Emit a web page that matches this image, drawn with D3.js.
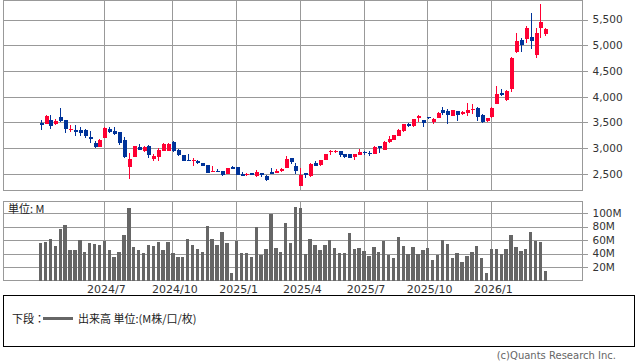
<!DOCTYPE html>
<html><head><meta charset="utf-8">
<script src="https://cdn.jsdelivr.net/npm/d3@7"></script>
<style>
html,body{margin:0;padding:0;background:#fff;}
svg{display:block;}
text{font-family:"DejaVu Sans",sans-serif;}
.jp{font-family:"Noto Sans CJK JP",sans-serif;}
</style></head>
<body>
<svg id="c" width="638" height="362"></svg>
<script>
// ---- data ----
const open  = [3494,3474,3545,3474,3597,3545,3358,3352,3345,3358,3223,3100,3029,3203,3377,3332,3313,3158,2625,2836,3025,2948,3040,2790,2820,2948,2935,3125,2972,2861,2766,2753,2747,2702,2665,2528,2560,2558,2500,2632,2636,2505,2475,2506,2450,2520,2462,2539,2520,2558,2603,2810,2655,2256,2510,2466,2710,2665,2763,2930,2936,2949,2891,2885,2827,2872,2923,2910,2878,3039,2955,3124,3156,3234,3331,3468,3429,3578,3539,3610,3500,3591,3740,3717,3627,3721,3656,3687,3753,3773,3647,3527,3613,3853,4067,3940,4153,4860,5107,5127,5167,4813,5327,5213];
const high  = [3545,3642,3642,3571,3777,3545,3448,3448,3410,3371,3332,3139,3177,3410,3410,3410,3313,3216,2905,3036,3075,3036,3055,2890,3005,3095,3100,3135,2975,2861,2880,2816,2759,2705,2665,2660,2595,2558,2620,2642,2636,2540,2520,2520,2578,2520,2474,2616,2597,2616,2855,2810,2705,2610,2510,2716,2750,2776,2891,2968,2968,2949,2891,2885,2878,2974,2942,2936,3045,3045,3137,3234,3260,3377,3461,3494,3565,3643,3539,3610,3578,3695,3790,3767,3747,3721,3721,3873,3860,3793,3660,3587,3807,4207,4147,4127,4767,5247,5147,5367,5627,5327,5807,5340];
const low   = [3358,3474,3377,3442,3513,3300,3319,3242,3242,3203,3107,3003,3029,3203,3300,3261,3068,2816,2395,2836,2966,2928,2810,2758,2758,2948,2935,2926,2850,2740,2740,2658,2690,2645,2513,2528,2528,2465,2500,2584,2468,2450,2455,2475,2436,2430,2352,2487,2507,2539,2603,2694,2494,2256,2425,2430,2642,2650,2763,2872,2897,2833,2814,2814,2763,2872,2872,2846,2878,2909,2955,3104,3150,3234,3318,3416,3409,3513,3416,3565,3474,3591,3645,3474,3627,3526,3636,3627,3660,3527,3493,3507,3593,3853,4013,3913,4093,4847,4873,5040,4927,4747,5140,5173];
const close = [3455,3623,3435,3526,3526,3377,3377,3319,3287,3242,3184,3029,3152,3390,3313,3281,3107,2836,2795,3036,2966,3025,2870,2850,2970,3078,3078,2945,2866,2740,2742,2766,2702,2645,2525,2560,2532,2485,2610,2600,2468,2452,2500,2488,2540,2468,2371,2487,2558,2597,2790,2732,2545,2485,2483,2698,2642,2770,2891,2942,2949,2872,2833,2814,2878,2929,2897,2885,3026,2994,3124,3182,3247,3351,3461,3435,3565,3617,3481,3578,3565,3675,3681,3640,3740,3636,3701,3747,3767,3607,3513,3587,3780,4060,4027,4113,4753,5087,5013,5327,5087,5247,5447,5307];
const volume = [56.2,57.2,61.7,51.2,76.6,82.6,45.3,45.3,59.7,42.3,55.7,54.2,52.7,58.7,45.3,34.8,42.3,67.7,108,49.8,45.3,40.8,52.7,51.2,57.2,45.3,57.2,40.8,34.8,34.8,61.7,52.7,46.8,42.3,81.1,61.7,52.7,72.1,55.7,10.9,58.7,40.8,40.8,34.8,79.6,37.8,46.8,99,48.3,42.3,85.6,55.7,109.5,108,39.3,61.7,52.7,45.3,52.7,60.2,48.3,40.8,40.8,70.6,46.8,48.3,43.8,36.3,49.8,42.3,58.7,37.8,33.3,64.7,51.2,39.3,49.8,39.3,45.3,48.3,30.3,37.8,60.2,54.2,33.3,40.8,27.4,36.3,42.3,51.2,33.3,10.9,46.8,46.8,39.3,46.8,67.7,49.8,43.8,46.8,72.1,58.7,57.2,13.9];
const fmt = d3.utcFormat("%Y-%m-%d");
const weeks = d3.utcMonday.range(new Date(Date.UTC(2024,3,1)), new Date(Date.UTC(2026,2,24))).map(fmt);
const xTickDates  = ["2024-07-01","2024-10-07","2025-01-06","2025-04-07","2025-07-07","2025-10-06","2026-01-05"];
const xTickLabels = ["2024/7","2024/10","2025/1","2025/4","2025/7","2025/10","2026/1"];
const priceTicks = [2500,3000,3500,4000,4500,5000,5500];
const volTicks = [20,40,60,80,100];

// ---- layout ----
const L = 3.5, R = 582.5;
const P = {top:0.5, bottom:190.5};
const V = {top:201, bottom:280.5};
const UP = "#ff0033", DOWN = "#003399", GRID = "#999999";

const svg = d3.select("#c");
const data = weeks.map((d,i)=>({d, o:open[i], h:high[i], l:low[i], c:close[i], v:volume[i]}));

const x = d3.scaleBand().domain(weeks).range([38.15, 38.15 + 4.9*weeks.length]);
const cx = d => x(d) + x.bandwidth()/2;
const y = d3.scaleLinear().domain([2175, 5870]).range([P.bottom, P.top]);
const yv = d3.scaleLinear().domain([0, 118]).range([V.bottom, V.top]);

function panel(top, bottom, yscale, ticks, fmtTick){
  const g = svg.append("g");
  // horizontal grid + right ticks
  g.append("g").attr("transform",`translate(${R},0)`)
    .call(d3.axisLeft(yscale).tickValues(ticks).tickSize(R-L).tickFormat(""))
    .call(a=>a.select(".domain").remove())
    .call(a=>a.selectAll("line").attr("stroke",GRID).attr("shape-rendering","crispEdges"));
  g.append("g").attr("transform",`translate(${R},0)`)
    .call(d3.axisRight(yscale).tickValues(ticks).tickSize(5).tickPadding(5).tickFormat(fmtTick))
    .call(a=>a.select(".domain").remove())
    .call(a=>a.selectAll("line").attr("stroke",GRID).attr("shape-rendering","crispEdges"))
    .call(a=>a.selectAll("text").attr("fill","#333").attr("font-size",10.5).attr("font-family","DejaVu Sans"));
  // vertical grid
  g.append("g").attr("transform",`translate(0,${bottom})`)
    .call(d3.axisBottom(x).tickValues(xTickDates).tickSize(-(bottom-top)).tickFormat(""))
    .call(a=>a.select(".domain").remove())
    .call(a=>a.selectAll("line").attr("stroke",GRID).attr("shape-rendering","crispEdges"));
  g.append("rect").attr("x",L).attr("y",top).attr("width",R-L).attr("height",bottom-top)
    .attr("fill","none").attr("stroke",GRID).attr("shape-rendering","crispEdges");
}
panel(P.top, P.bottom, y, priceTicks, d3.format(","));
panel(V.top, V.bottom, yv, volTicks, d=>d+"M");

// candles
const cg = svg.append("g").attr("shape-rendering","crispEdges");
cg.selectAll("line.w").data(data).join("line")
  .attr("x1",d=>Math.round(cx(d.d))+0.5).attr("x2",d=>Math.round(cx(d.d))+0.5)
  .attr("y1",d=>y(d.h)).attr("y2",d=>y(d.l))
  .attr("stroke",d=>d.c>=d.o?UP:DOWN).attr("stroke-width",1);
cg.selectAll("rect.b").data(data).join("rect")
  .attr("x",d=>Math.round(cx(d.d))-1.5).attr("width",4)
  .attr("y",d=>y(Math.max(d.o,d.c)))
  .attr("height",d=>Math.max(1.2, Math.abs(y(d.o)-y(d.c))))
  .attr("fill",d=>d.c>=d.o?UP:DOWN);

// volume
svg.append("g").attr("shape-rendering","crispEdges").selectAll("rect").data(data).join("rect")
  .attr("x",d=>cx(d.d)-1.7).attr("width",3.4)
  .attr("y",d=>yv(d.v)).attr("height",d=>yv(0)-yv(d.v))
  .attr("fill","#666666");

// x labels
svg.append("g").attr("transform",`translate(0,${V.bottom})`)
  .call(d3.axisBottom(x).tickValues(xTickDates).tickSize(0).tickPadding(0).tickFormat((d,i)=>xTickLabels[i]))
  .call(a=>a.select(".domain").remove())
  .call(a=>a.selectAll("text").attr("dy",null).attr("y",12.5).attr("dx",2)
     .attr("fill","#333").attr("font-size",11).attr("font-family","DejaVu Sans"));

svg.append("text").attr("class","jp").attr("x",8).attr("y",213).attr("font-size",11).attr("fill","#222").text("単位: M");

// legend box
svg.append("rect").attr("x",3.5).attr("y",295.5).attr("width",631).attr("height",51)
  .attr("fill","none").attr("stroke","#000").attr("shape-rendering","crispEdges");
svg.append("text").attr("class","jp").attr("x",12).attr("y",323).attr("font-size",11).attr("fill","#222").text("下段：");
svg.append("line").attr("x1",43).attr("x2",73).attr("y1",318.5).attr("y2",318.5).attr("stroke","#666").attr("stroke-width",3);
svg.append("text").attr("class","jp").attr("x",78).attr("y",323).attr("font-size",11).attr("fill","#222").text("出来高 単位:(M株/口/枚)");

svg.append("text").attr("x",616).attr("y",359).attr("text-anchor","end").attr("font-size",10).attr("fill","#666").text("(c)Quants Research Inc.");
</script>
</body></html>
